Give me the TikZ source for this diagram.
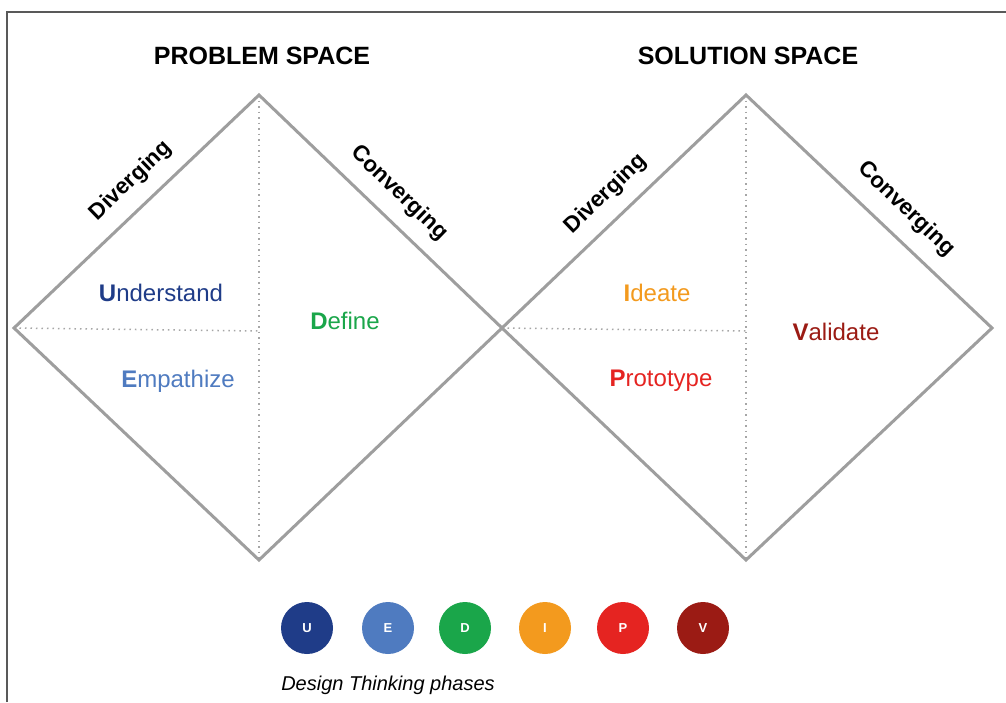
\documentclass[tikz,border=0pt]{standalone}
\usepackage{fontspec}
\setmainfont{Liberation Sans}
\usepackage{tikz}

\definecolor{uBlue}{HTML}{1F3C88}
\definecolor{eBlue}{HTML}{4F7BC0}
\definecolor{dGreen}{HTML}{1AA64A}
\definecolor{iOrange}{HTML}{F39A1E}
\definecolor{pRed}{HTML}{E52421}
\definecolor{vRed}{HTML}{9B1B14}

\begin{document}
\begin{tikzpicture}[x=1pt,y=-1pt,
  frame/.style={line width=2pt,color=black!65},
  edge/.style={line width=3pt,color=black!38,line join=miter},
  split/.style={line width=1.5pt,color=black!35,dash pattern=on 1.5pt off 4pt},
  title/.style={font=\bfseries\fontsize{25}{29}\selectfont},
  side/.style={font=\bfseries\fontsize{22.5}{26}\selectfont},
  phase/.style={font=\fontsize{24}{28}\selectfont},
  badge/.style={circle,minimum size=52pt,inner sep=0pt,text=white,
    font=\bfseries\fontsize{13}{15}\selectfont}]
  \useasboundingbox (0,0) rectangle (1006,702);
  \fill[white] (0,0) rectangle (1006,702);
  \draw[frame] (7,702) -- (7,12) -- (1006,12);

  % problem space
  \coordinate (ptop) at (259,95);
  \coordinate (pbot) at (259,560);
  \coordinate (pleft) at (14,328);
  \coordinate (mid) at (502,328);
  \draw[split] (ptop) -- (pbot);
  \draw[split] (pleft) -- (259,331);
  \draw[edge] (pleft) -- (ptop) -- (mid) -- (pbot) -- cycle;
  \node[title] (ptitle) at (262,56) {PROBLEM SPACE};
  \node[side,rotate=44] (pdiv) at (131,181) {Diverging};
  \node[side,rotate=-44] (pconv) at (399,193) {Converging};
  \node[phase,text=uBlue] (understand) at (161,293) {\textbf{U}nderstand};
  \node[phase,text=eBlue] (empathize) at (178,381) {\textbf{E}mpathize};
  \node[phase,text=dGreen] (define) at (345,321) {\textbf{D}efine};

  % solution space
  \coordinate (stop) at (746,95);
  \coordinate (sbot) at (746,560);
  \coordinate (sright) at (992,328);
  \draw[split] (stop) -- (sbot);
  \draw[split] (mid) -- (746,331);
  \draw[edge] (mid) -- (stop) -- (sright) -- (sbot) -- cycle;
  \node[title] (stitle) at (748,56) {SOLUTION SPACE};
  \node[side,rotate=44] (sdiv) at (606,194) {Diverging};
  \node[side,rotate=-44] (sconv) at (906,209) {Converging};
  \node[phase,text=iOrange] (ideate) at (657,293) {\textbf{I}deate};
  \node[phase,text=pRed] (prototype) at (661,381) {\textbf{P}rototype};
  \node[phase,text=vRed] (validate) at (836,332) {\textbf{V}alidate};

  % phases
  \node[badge,fill=uBlue] (bu) at (307,628) {U};
  \node[badge,fill=eBlue] (be) at (388,628) {E};
  \node[badge,fill=dGreen] (bd) at (465,628) {D};
  \node[badge,fill=iOrange] (bi) at (545,628) {I};
  \node[badge,fill=pRed] (bp) at (623,628) {P};
  \node[badge,fill=vRed] (bv) at (703,628) {V};
  \node[font=\itshape\fontsize{20}{24}\selectfont] (caption) at (388,685) {Design Thinking phases};
\end{tikzpicture}
\end{document}
